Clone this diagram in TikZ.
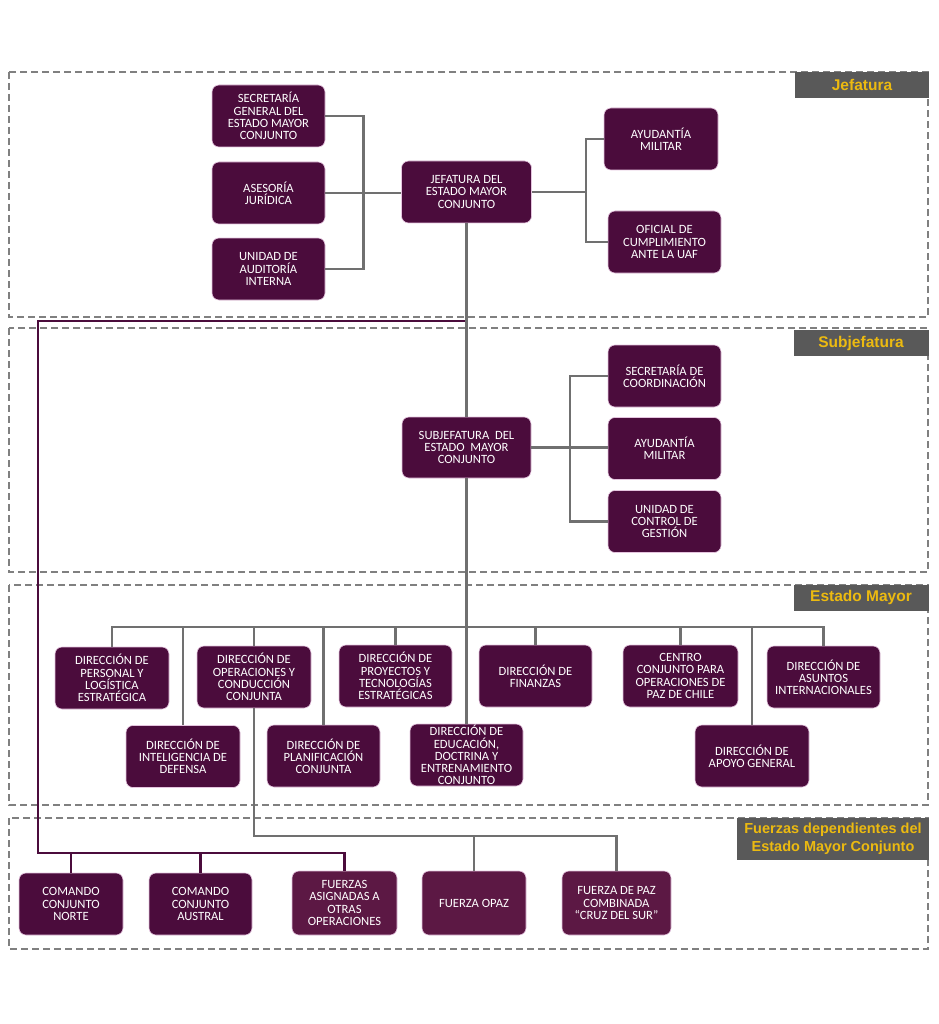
\documentclass[tikz,border=0pt]{standalone}
\usepackage{fontspec}
\setmainfont{Carlito}
\newfontfamily\labfont{Liberation Sans}
\definecolor{pur}{RGB}{75,12,60}
\definecolor{purb}{RGB}{92,24,68}
\definecolor{edge}{RGB}{228,196,222}
\definecolor{lgray}{RGB}{112,112,112}
\definecolor{dgray}{RGB}{128,128,128}
\definecolor{labbg}{RGB}{89,89,89}
\definecolor{gold}{RGB}{236,186,16}
\tikzset{
  orgbox/.style={rounded corners=7pt, fill=pur, draw=edge, line width=0.6pt, text=white,
    align=center, inner sep=0pt, minimum width=#1, minimum height=62pt,
    font=\fontsize{12.6}{12.2}\selectfont},
  orgbox/.default=114pt,
  fbox/.style={orgbox=#1, fill=purb},
  gl/.style={draw=lgray, line width=2.4pt},
  pl/.style={draw=pur, line width=2.4pt},
  sect/.style={draw=dgray, line width=1.3pt, dash pattern=on 7pt off 4pt},
  lab/.style={fill=labbg, text=gold, inner sep=0pt, align=center,
    font=\labfont\bfseries\fontsize{15.5}{18}\selectfont},
}
\begin{document}
\begin{tikzpicture}[x=1pt,y=-1pt]
\useasboundingbox (0,0) rectangle (938,1024);
% sections
\draw[sect] (9,72) rectangle (928,317);
\draw[sect] (9,328) rectangle (928,572);
\draw[sect] (9,585) rectangle (928,805);
\draw[sect] (9,818) rectangle (928,949);
\node[lab, minimum width=134pt, minimum height=26pt] (lj) at (862,85) {Jefatura};
\node[lab, minimum width=135pt, minimum height=26pt] (ls) at (861,343) {Subjefatura};
\node[lab, minimum width=135pt, minimum height=26pt] (le) at (861,597.5) {Estado Mayor};
\node[lab, minimum width=192pt, minimum height=42pt, font=\labfont\bfseries\fontsize{14.5}{18}\selectfont] (lf) at (833,839) {Fuerzas dependientes del\\Estado Mayor Conjunto};

% Jefatura
\node[orgbox=113pt] (sec) at (268.5,116) {SECRETARÍA\\GENERAL DEL\\ESTADO MAYOR\\CONJUNTO};
\node[orgbox=113pt] (ase) at (268.5,193) {ASESORÍA\\JURÍDICA};
\node[orgbox=113pt] (aud) at (268.5,269) {UNIDAD DE\\AUDITORÍA\\INTERNA};
\node[orgbox=130pt] (jef) at (466.5,192) {JEFATURA DEL\\ESTADO MAYOR\\CONJUNTO};
\node[orgbox=114pt] (ayu) at (661,139) {AYUDANTÍA\\MILITAR};
\node[orgbox=113pt] (ofi) at (664.5,242) {OFICIAL DE\\CUMPLIMIENTO\\ANTE LA UAF};

% Subjefatura
\node[orgbox=129pt, minimum height=61pt] (sub) at (466.5,447.5) {SUBJEFATURA~ DEL\\ESTADO~ MAYOR\\CONJUNTO};
\node[orgbox=113pt] (sco) at (664.5,376) {SECRETARÍA DE\\COORDINACIÓN};
\node[orgbox=113pt] (ayb) at (664.5,448.5) {AYUDANTÍA\\MILITAR};
\node[orgbox=113pt] (ucg) at (664.5,521.5) {UNIDAD DE\\CONTROL DE\\GESTIÓN};

% Estado Mayor
\node[orgbox] (per) at (112,678) {DIRECCIÓN DE\\PERSONAL Y\\LOGÍSTICA\\ESTRATÉGICA};
\node[orgbox] (int) at (183,756.5) {DIRECCIÓN DE\\INTELIGENCIA DE\\DEFENSA};
\node[orgbox] (ope) at (254,677) {DIRECCIÓN DE\\OPERACIONES Y\\CONDUCCIÓN\\CONJUNTA};
\node[orgbox=113pt] (pla) at (323.5,756) {DIRECCIÓN DE\\PLANIFICACIÓN\\CONJUNTA};
\node[orgbox=113pt] (pro) at (395.5,676) {DIRECCIÓN DE\\PROYECTOS Y\\TECNOLOGÍAS\\ESTRATÉGICAS};
\node[orgbox=113pt] (edu) at (466.5,755) {DIRECCIÓN DE\\EDUCACIÓN,\\DOCTRINA Y\\ENTRENAMIENTO\\CONJUNTO};
\node[orgbox=113pt] (fin) at (535.5,676) {DIRECCIÓN DE\\FINANZAS};
\node[orgbox=115pt] (cen) at (680.5,676) {CENTRO\\CONJUNTO PARA\\OPERACIONES DE\\PAZ DE CHILE};
\node[orgbox] (apo) at (752,756) {DIRECCIÓN DE\\APOYO GENERAL};
\node[orgbox=113pt] (asu) at (823.5,677) {DIRECCIÓN DE\\ASUNTOS\\INTERNACIONALES};

% Fuerzas
\node[orgbox=104pt] (nor) at (71,904) {COMANDO\\CONJUNTO\\NORTE};
\node[orgbox=103pt] (aus) at (200.5,904) {COMANDO\\CONJUNTO\\AUSTRAL};
\node[fbox=105pt, minimum height=64pt] (asi) at (344.5,903) {FUERZAS\\ASIGNADAS A\\OTRAS\\OPERACIONES};
\node[fbox=104pt, minimum height=64pt] (opa) at (474,903) {FUERZA OPAZ};
\node[fbox=109pt, minimum height=64pt] (cru) at (616.5,903) {FUERZA DE PAZ\\COMBINADA\\“CRUZ DEL SUR”};

% coordinates
\coordinate (bus) at (0,627);
\coordinate (fbus) at (0,836);
\coordinate (ptop) at (466.5,321);
\coordinate (pcorner) at (38,853);

% Jefatura connectors
\draw[gl] (sec.east) -- ++(38,0) |- (aud.east);
\draw[gl] (ase.east) -- (ase.east -| jef.west);
\draw[gl] (ayu.west) -- ++(-18,0) |- (ofi.west);
\draw[gl] (jef.east) -- ++(55,0);
% Subjefatura connectors
\draw[gl] (sco.west) -- ++(-38,0) |- (ucg.west);
\draw[gl] (sub.east) -- (sub.east -| ayb.west);
\draw[gl] (sub.south) -- (edu.north);
% Estado Mayor bus
\draw[gl] (per.north) -- (per.north |- bus) -| (asu.north);
\foreach \n in {int,ope,pla,pro,fin,cen,apo}
  \draw[gl] (\n.north) -- (\n.north |- bus);
% Operaciones to peace forces
\draw[gl] (ope.south) -- (ope.south |- fbus) -| (cru.north);
\draw[gl] (opa.north) -- (opa.north |- fbus);
% purple line
\draw[pl] (ptop) -| (pcorner) -| (asi.north);
\draw[pl] (nor.north) -- (nor.north |- pcorner);
\draw[pl] (aus.north) -- (aus.north |- pcorner);
% main vertical on top of the purple junction
\draw[gl] (jef.south) -- (sub.north);
\end{tikzpicture}
\end{document}
